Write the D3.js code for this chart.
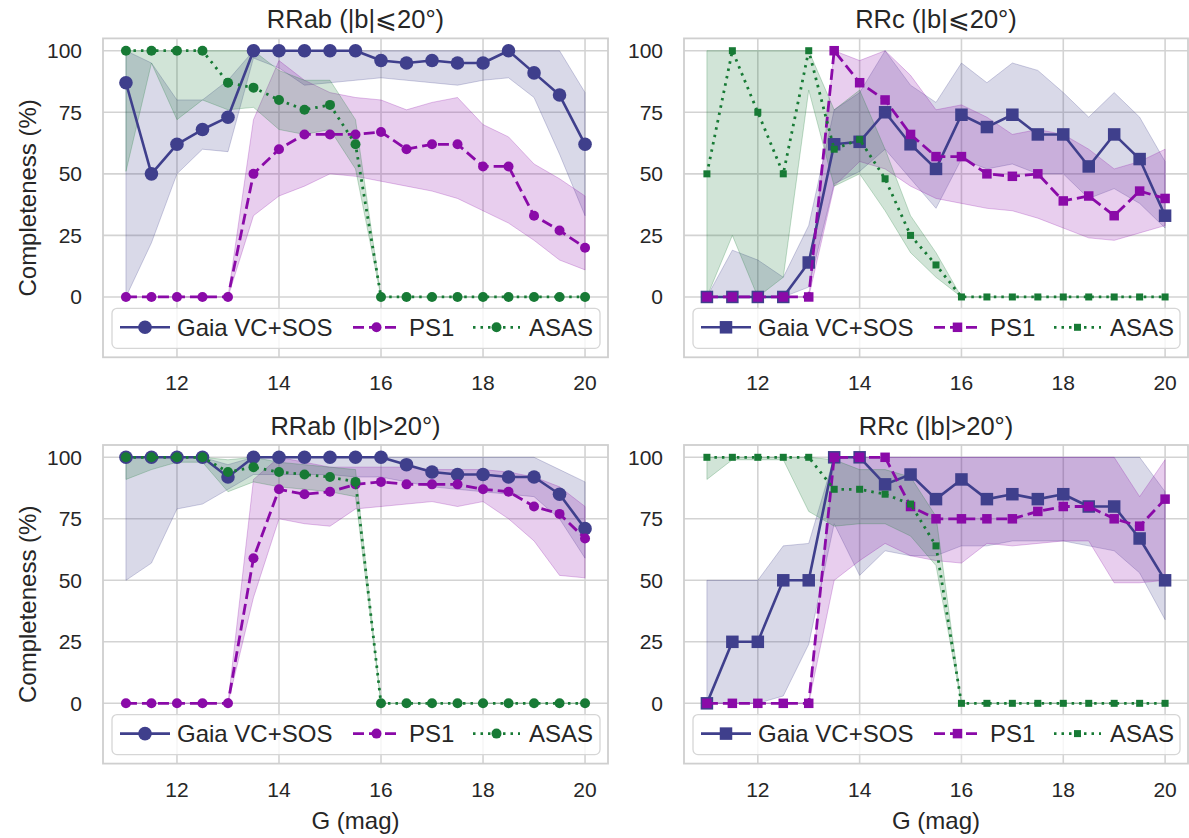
<!DOCTYPE html>
<html><head><meta charset="utf-8">
<script src="https://cdn.jsdelivr.net/npm/d3@7/dist/d3.min.js"></script>
<style>
html,body{margin:0;padding:0;background:#fff;}
text{font-family:"Liberation Sans",Arial,sans-serif;fill:#262626;}
</style></head>
<body>
<svg id="chart" width="1189" height="838"></svg>
<script>
// magnitudes (x)
const mags = [11,11.5,12,12.5,13,13.5,14,14.5,15,15.5,16,16.5,17,17.5,18,18.5,19,19.5,20];
const xTicks = [12,14,16,18,20];
const yTicks = [0,25,50,75,100];
const seriesNames = ["Gaia VC+SOS","PS1","ASAS"];
const panelTitles = ["RRab (|b|⩽20°)","RRc (|b|⩽20°)","RRab (|b|>20°)","RRc (|b|>20°)"];

// Panel 1: RRab |b|<=20
const abLowGaia   = [87,50,62,68,73,100,100,100,100,100,96,95,96,95,95,100,91,82,62];
const abLowGaiaLo = [0,22,50,60,59,97,93,86,87,88,89,88,87,86,88,89,81,58,33];
const abLowGaiaHi = [100,95,80,80,88,100,100,100,100,100,100,100,100,100,100,100,100,100,83];
const abLowPS1    = [0,0,0,0,0,50,60,66,66,66,67,60,62,62,53,53,33,27,20];
const abLowPS1Lo  = [0,0,0,0,0,33,41,45,50,49,47,45,43,40,35,30,23,15,11];
const abLowPS1Hi  = [0,0,0,0,0,72,96,88,83,81,80,76,79,81,70,65,54,48,41];
const abLowASAS   = [100,100,100,100,87,85,80,76,78,62,0,0,0,0,0,0,0,0,0];
const abLowASASLo = [51,95,72,80,76,77,68,66,68,52,0,0,0,0,0,0,0,0,0];
const abLowASASHi = [100,100,100,100,100,100,92,88,88,72,0,0,0,0,0,0,0,0,0];

// Panel 2: RRc |b|<=20
const cLowGaia   = [0,0,0,0,14,62,63,75,62,52,74,69,74,66,66,53,66,56,33];
const cLowGaiaLo = [0,0,0,0,4,46,51,60,48,36,56,52,54,50,50,40,44,38,28];
const cLowGaiaHi = [0,19,15,8,29,76,83,100,86,79,95,87,95,92,83,73,83,73,55];
const cLowPS1    = [0,0,0,0,0,100,87,80,66,57,57,50,49,50,39,41,33,43,40];
const cLowPS1Lo  = [0,0,0,0,0,45,55,52,45,40,38,36,35,32,28,24,23,26,29];
const cLowPS1Hi  = [0,0,0,0,0,100,96,100,90,76,78,73,66,68,66,60,52,55,60];
const cLowASAS   = [50,100,75,50,100,60,64,48,25,13,0,0,0,0,0,0,0,0,0];
const cLowASASLo = [0,25,0,8,84,45,50,35,18,8,0,0,0,0,0,0,0,0,0];
const cLowASASHi = [100,100,100,100,100,76,84,60,33,18,0,0,0,0,0,0,0,0,0];

// Panel 3: RRab |b|>20
const abHighGaia   = [100,100,100,100,92,100,100,100,100,100,100,97,94,93,93,92,92,85,71];
const abHighGaiaLo = [50,57,79,81,87,93,93,93,93,92,92,90,88,87,86,85,84,75,59];
const abHighGaiaHi = [100,100,100,100,97,100,100,100,100,100,100,100,100,100,100,100,100,95,90];
const abHighPS1    = [0,0,0,0,0,59,87,85,86,89,90,89,89,89,87,86,80,77,67];
const abHighPS1Lo  = [0,0,0,0,0,43,75,73,72,79,80,81,82,80,82,75,66,52,51];
const abHighPS1Hi  = [0,0,0,0,0,91,100,98,96,96,96,96,95,95,95,94,92,88,80];
const abHighASAS   = [100,100,100,100,94,96,94,93,92,90,0,0,0,0,0,0,0,0,0];
const abHighASASLo = [91,95,98,98,86,90,88,87,86,84,0,0,0,0,0,0,0,0,0];
const abHighASASHi = [100,100,100,100,99,100,98,97,96,95,0,0,0,0,0,0,0,0,0];

// Panel 4: RRc |b|>20
const cHighGaia   = [0,25,25,50,50,100,100,89,93,83,91,83,85,83,85,80,80,67,50];
const cHighGaiaLo = [0,0,0,3,24,73,52,62,60,60,64,64,66,66,66,64,62,53,34];
const cHighGaiaHi = [50,50,50,64,65,100,100,100,100,100,100,100,100,100,100,100,100,100,86];
const cHighPS1    = [0,0,0,0,0,100,100,100,80,75,75,75,75,78,80,80,75,72,83];
const cHighPS1Lo  = [0,0,0,0,0,50,58,65,60,58,57,65,64,65,66,66,49,49,50];
const cHighPS1Hi  = [0,0,0,0,0,100,100,100,100,100,100,100,100,100,100,100,100,84,99];
const cHighASAS   = [100,100,100,100,100,87,87,85,81,64,0,0,0,0,0,0,0,0,0];
const cHighASASLo = [91,99,99,99,78,72,73,73,68,56,0,0,0,0,0,0,0,0,0];
const cHighASASHi = [100,100,100,100,100,99,95,95,92,76,0,0,0,0,0,0,0,0,0];

const colors = ["#3f3f8c","#8a0aa8","#177a35"];

const panels = [
  {title:panelTitles[0], x0:103, x1:608, y0:38.4, y1:357.3, marker:"circle", ylabel:true, xlabel:false,
   s:[[abLowGaia,abLowGaiaLo,abLowGaiaHi],[abLowPS1,abLowPS1Lo,abLowPS1Hi],[abLowASAS,abLowASASLo,abLowASASHi]]},
  {title:panelTitles[1], x0:684, x1:1188, y0:38.4, y1:357.3, marker:"square", ylabel:false, xlabel:false,
   s:[[cLowGaia,cLowGaiaLo,cLowGaiaHi],[cLowPS1,cLowPS1Lo,cLowPS1Hi],[cLowASAS,cLowASASLo,cLowASASHi]]},
  {title:panelTitles[2], x0:103, x1:608, y0:445, y1:763.6, marker:"circle", ylabel:true, xlabel:true,
   s:[[abHighGaia,abHighGaiaLo,abHighGaiaHi],[abHighPS1,abHighPS1Lo,abHighPS1Hi],[abHighASAS,abHighASASLo,abHighASASHi]]},
  {title:panelTitles[3], x0:684, x1:1188, y0:445, y1:763.6, marker:"square", ylabel:false, xlabel:true,
   s:[[cHighGaia,cHighGaiaLo,cHighGaiaHi],[cHighPS1,cHighPS1Lo,cHighPS1Hi],[cHighASAS,cHighASASLo,cHighASASHi]]}
];

const svg = d3.select("#chart");
const lineStyles = [
  {w:2.6, dash:null, cap:"butt"},
  {w:2.8, dash:"11,5", cap:"butt"},
  {w:2.8, dash:"2.5,5", cap:"butt"}
];
const circleR = [6.8, 5, 5];
const squareS = [12.5, 9.5, 7];

function drawMarker(g, kind, i, cx, cy){
  if(kind==="circle"){
    g.append("circle").attr("cx",cx).attr("cy",cy).attr("r",circleR[i]).attr("fill",colors[i]);
  } else {
    const s = squareS[i];
    g.append("rect").attr("x",cx-s/2).attr("y",cy-s/2).attr("width",s).attr("height",s).attr("fill",colors[i]);
  }
}

panels.forEach(p=>{
  const x = d3.scaleLinear().domain([10.55,20.45]).range([p.x0,p.x1]);
  const y = d3.scaleLinear().domain([-24.5,105]).range([p.y1,p.y0]);
  const g = svg.append("g");
  // grid
  g.append("g").selectAll("line").data(xTicks).join("line")
    .attr("x1",d=>x(d)).attr("x2",d=>x(d)).attr("y1",p.y0).attr("y2",p.y1)
    .attr("stroke","#d3d3d3").attr("stroke-width",1.6);
  g.append("g").selectAll("line").data(yTicks).join("line")
    .attr("x1",p.x0).attr("x2",p.x1).attr("y1",d=>y(d)).attr("y2",d=>y(d))
    .attr("stroke","#d3d3d3").attr("stroke-width",1.6);
  // bands
  p.s.forEach((s,i)=>{
    const area = d3.area().x((d,k)=>x(mags[k])).y0((d,k)=>y(s[1][k])).y1((d,k)=>y(s[2][k]));
    g.append("path").datum(mags).attr("d",area)
      .attr("fill",colors[i]).attr("fill-opacity",0.2)
      .attr("stroke",colors[i]).attr("stroke-opacity",0.25).attr("stroke-width",1);
  });
  // lines + markers
  p.s.forEach((s,i)=>{
    const line = d3.line().x((d,k)=>x(mags[k])).y((d,k)=>y(s[0][k]));
    const ls = lineStyles[i];
    const path = g.append("path").datum(mags).attr("d",line).attr("fill","none")
      .attr("stroke",colors[i]).attr("stroke-width",ls.w).attr("stroke-linecap",ls.cap).attr("stroke-linejoin","round");
    if(ls.dash) path.attr("stroke-dasharray",ls.dash);
    const mg = g.append("g");
    mags.forEach((m,k)=>drawMarker(mg,p.marker,i,x(m),y(s[0][k])));
  });
  // frame
  g.append("rect").attr("x",p.x0).attr("y",p.y0).attr("width",p.x1-p.x0).attr("height",p.y1-p.y0)
    .attr("fill","none").attr("stroke","#cfcfcf").attr("stroke-width",1.8);
  // y ticks
  g.append("g").selectAll("text").data(yTicks).join("text")
    .attr("x",p.x0-21).attr("y",d=>y(d)+7.5).attr("text-anchor","end")
    .attr("font-size",21).text(d=>d);
  // x ticks
  g.append("g").selectAll("text").data(xTicks).join("text")
    .attr("x",d=>x(d)).attr("y",p.y1+33).attr("text-anchor","middle")
    .attr("font-size",21).text(d=>d);
  // title
  g.append("text").attr("x",(p.x0+p.x1)/2).attr("y",p.y0-10).attr("text-anchor","middle")
    .attr("font-size",25.5).text(p.title);
  if(p.ylabel){
    const cy=(p.y0+p.y1)/2;
    g.append("text").attr("transform",`translate(36,${cy}) rotate(-90)`).attr("text-anchor","middle")
      .attr("font-size",24).text("Completeness (%)");
  }
  if(p.xlabel){
    g.append("text").attr("x",(p.x0+p.x1)/2).attr("y",829).attr("text-anchor","middle")
      .attr("font-size",24).text("G (mag)");
  }
  // legend
  const lx = p.x0, ly = p.y1-30;
  g.append("rect").attr("x",lx+9).attr("y",p.y1-49).attr("width",p.x1-p.x0-17).attr("height",40).attr("rx",5)
    .attr("fill","#fff").attr("fill-opacity",0.8).attr("stroke","#d6d6d6").attr("stroke-width",1.3);
  const entries = [{a:17,b:67,t:74},{a:250,b:297,t:306},{a:370,b:417,t:426}];
  entries.forEach((e,i)=>{
    const ls = lineStyles[i];
    const l = g.append("line").attr("x1",lx+e.a).attr("x2",lx+e.b).attr("y1",ly).attr("y2",ly)
      .attr("stroke",colors[i]).attr("stroke-width",ls.w);
    if(ls.dash) l.attr("stroke-dasharray",ls.dash);
    drawMarker(g,p.marker,i,lx+(e.a+e.b)/2,ly);
    g.append("text").attr("x",lx+e.t).attr("y",ly+8.5).attr("font-size",24).text(seriesNames[i]);
  });
});
</script>
</body></html>
